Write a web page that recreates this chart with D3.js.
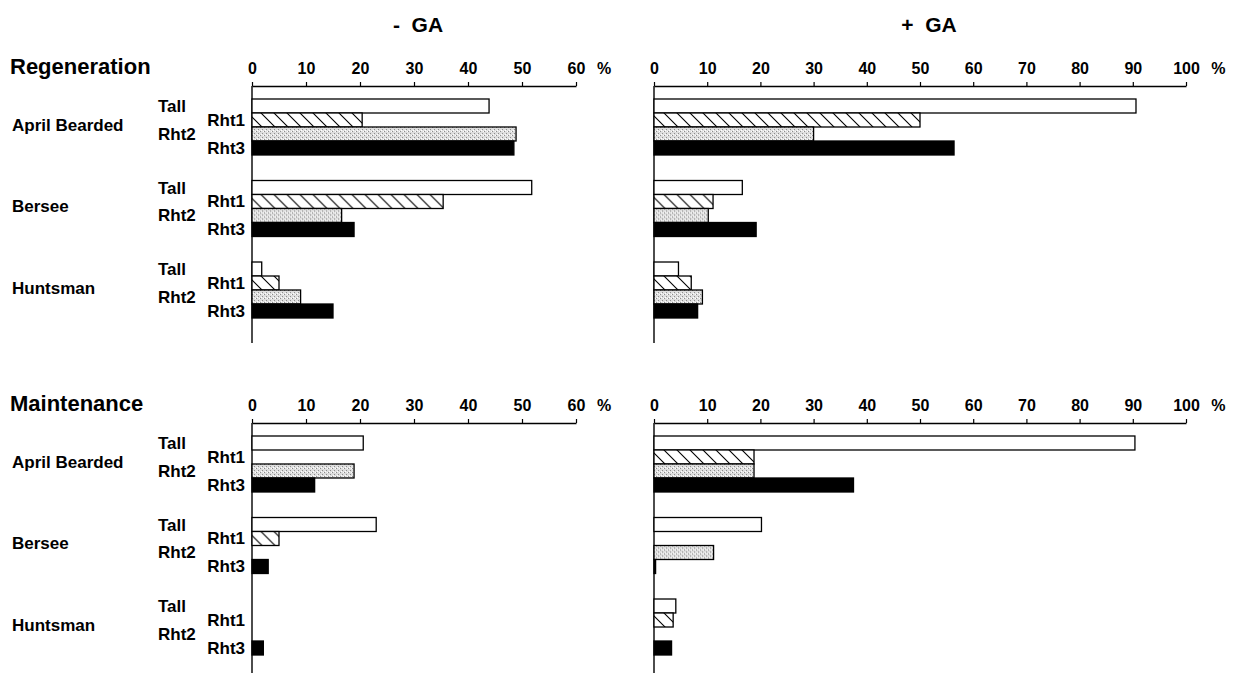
<!DOCTYPE html>
<html>
<head>
<meta charset="utf-8">
<script src="https://cdn.jsdelivr.net/npm/d3@7"></script>
<style>
  body { margin: 0; background: #fff; }
  text { font-family: "Liberation Sans", Arial, sans-serif; font-weight: bold; fill: #000; }
</style>
</head>
<body>
<script>
const width = 1234;
const height = 673;

// data (% of explants)
const varieties = ["April Bearded", "Bersee", "Huntsman"];
const genotypes = ["Tall", "Rht1", "Rht2", "Rht3"];
const rowTitles = ["Regeneration", "Maintenance"];
const colTitles = ["-  GA", "+  GA"];
const ticksMinusGA = [0, 10, 20, 30, 40, 50, 60];
const ticksPlusGA = [0, 10, 20, 30, 40, 50, 60, 70, 80, 90, 100];

const regenMinusGA = [[43.9, 20.4, 48.9, 48.5], [51.8, 35.4, 16.6, 18.9], [1.8, 5.0, 9.0, 15.0]];
const regenPlusGA  = [[90.6, 50.0, 30.0, 56.4], [16.6, 11.1, 10.2, 19.2], [4.6, 7.0, 9.1, 8.2]];
const maintMinusGA = [[20.6, 0, 18.9, 11.6], [23.0, 5.0, 0, 3.0], [0, 0, 0, 2.1]];
const maintPlusGA  = [[90.4, 18.8, 18.8, 37.5], [20.2, 0, 11.2, 0.3], [4.1, 3.6, 0, 3.3]];

const svg = d3.select('body').append('svg')
  .attr('width', width)
  .attr('height', height);

// fill patterns
const defs = svg.append('defs');
const hatch = defs.append('pattern')
  .attr('id', 'hatch')
  .attr('patternUnits', 'userSpaceOnUse')
  .attr('width', 13).attr('height', 13);
hatch.append('rect').attr('width', 13).attr('height', 13).attr('fill', '#fff');
hatch.append('path')
  .attr('d', 'M0,0L13,13M-2,11L2,15M11,-2L15,2')
  .attr('stroke', '#000').attr('stroke-width', 1.1);

const stipple = defs.append('pattern')
  .attr('id', 'stipple')
  .attr('patternUnits', 'userSpaceOnUse')
  .attr('width', 4).attr('height', 4);
stipple.append('rect').attr('width', 4).attr('height', 4).attr('fill', '#dedede');
[[0, 0], [2, 2], [3, 0], [1, 3]].forEach(([px, py], i) => {
  stipple.append('rect').attr('x', px).attr('y', py).attr('width', 1).attr('height', 1)
    .attr('fill', i < 2 ? '#8c8c8c' : '#ffffff');
});

const fills = { Tall: '#fff', Rht1: 'url(#hatch)', Rht2: 'url(#stipple)', Rht3: '#000' };

const rowAxisY = [86, 423];
const colRange = [[252, 576], [654, 1186]];
const colTicks = [ticksMinusGA, ticksPlusGA];
const panels = [
  { row: 0, col: 0, values: regenMinusGA },
  { row: 0, col: 1, values: regenPlusGA },
  { row: 1, col: 0, values: maintMinusGA },
  { row: 1, col: 1, values: maintPlusGA }
];

// column titles
svg.selectAll('.coltitle')
  .data(colTitles)
  .enter().append('text')
  .attr('class', 'coltitle')
  .attr('x', (d, i) => i === 0 ? 418 : 929)
  .attr('y', 32)
  .attr('text-anchor', 'middle')
  .style('font-size', '21px')
  .style('white-space', 'pre')
  .text(d => d);

// row titles
svg.selectAll('.rowtitle')
  .data(rowTitles)
  .enter().append('text')
  .attr('class', 'rowtitle')
  .attr('x', 10)
  .attr('y', (d, i) => rowAxisY[i] - 12)
  .style('font-size', '22px')
  .text(d => d);

panels.forEach(p => {
  const axisY = rowAxisY[p.row];
  const ticks = colTicks[p.col];
  const x = d3.scaleLinear()
    .domain([0, ticks[ticks.length - 1]])
    .range(colRange[p.col]);

  const y = d3.scaleBand()
    .domain(varieties)
    .range([axisY + 13, axisY + 13 + 219])
    .paddingInner(0.313)
    .paddingOuter(0);
  const yInner = d3.scaleBand()
    .domain(genotypes)
    .range([0, y.bandwidth()]);

  const g = svg.append('g');

  // top axis
  const axis = g.append('g')
    .attr('transform', `translate(0,${axisY})`)
    .call(d3.axisTop(x).tickValues(ticks).tickSize(4).tickSizeOuter(0).tickPadding(8));
  axis.select('.domain').attr('stroke', '#000').attr('stroke-width', 1.4);
  axis.selectAll('.tick line').attr('stroke', '#000').attr('stroke-width', 1.2);
  axis.selectAll('.tick text')
    .style('font-size', '16px')
    .style('font-family', '"Liberation Sans", Arial, sans-serif')
    .style('font-weight', 'bold')
    .attr('fill', '#000');

  // % sign after last tick label
  const lastLabel = axis.selectAll('.tick text').nodes().pop();
  const lw = lastLabel.getComputedTextLength();
  g.append('text')
    .attr('x', x(ticks[ticks.length - 1]) + lw / 2 + 12)
    .attr('y', axisY - 12)
    .style('font-size', '16px')
    .text('%');

  // vertical axis
  g.append('line')
    .attr('x1', x(0)).attr('x2', x(0))
    .attr('y1', axisY).attr('y2', axisY + 257)
    .attr('stroke', '#000').attr('stroke-width', 1.4);

  // bars
  const groups = g.selectAll('.variety')
    .data(varieties)
    .enter().append('g')
    .attr('class', 'variety')
    .attr('transform', d => `translate(0,${y(d)})`);

  groups.selectAll('rect')
    .data((d, i) => genotypes.map((gt, j) => ({ genotype: gt, value: p.values[i][j] })))
    .enter().append('rect')
    .attr('x', x(0))
    .attr('y', d => yInner(d.genotype))
    .attr('width', d => x(d.value) - x(0))
    .attr('height', yInner.bandwidth())
    .attr('fill', d => fills[d.genotype])
    .attr('stroke', '#000')
    .attr('stroke-width', 1.3);

  if (p.col === 0) {
    groups.append('text')
      .attr('x', 12)
      .attr('y', y.bandwidth() / 2 + 4)
      .style('font-size', '17px')
      .text(d => d);

    groups.selectAll('.gt')
      .data(genotypes)
      .enter().append('text')
      .attr('class', 'gt')
      .attr('x', (d, j) => j % 2 === 0 ? 158 : 245)
      .attr('text-anchor', (d, j) => j % 2 === 0 ? 'start' : 'end')
      .attr('y', d => yInner(d) + yInner.bandwidth() - 1)
      .style('font-size', '17px')
      .text(d => d);
  }
});
</script>
</body>
</html>
